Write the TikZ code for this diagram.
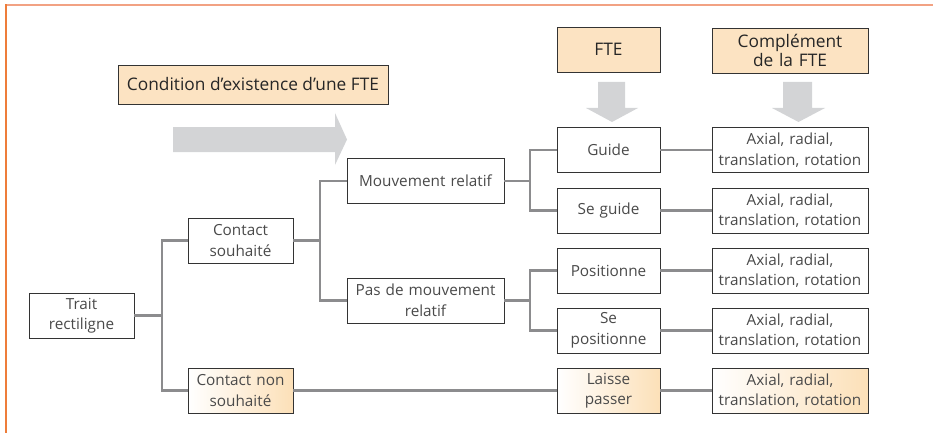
\documentclass[tikz,border=0pt]{standalone}
\usepackage{fontspec}
\setmainfont{Open Sans}
\definecolor{hdrfill}{HTML}{FCE3C2}
\definecolor{gradend}{HTML}{FCE0B8}
\definecolor{arrowgray}{HTML}{D3D4D6}
\definecolor{conngray}{HTML}{8C8C8E}
\definecolor{boxline}{HTML}{333333}
\definecolor{txtgray}{HTML}{4A4A4A}
\definecolor{topline}{HTML}{F2A283}
\definecolor{leftline}{HTML}{EE7D3A}
\begin{document}
\begin{tikzpicture}[x=1pt,y=-1pt,
  treebox/.style={draw=boxline,line width=0.9pt,fill=white,align=center,inner sep=1pt,
    text=txtgray,font=\fontsize{15.3}{20.5}\selectfont,minimum height=45pt},
  narrowbox/.style={treebox,minimum width=103pt,text width=101pt},
  midbox/.style={treebox,minimum width=105pt,text width=103pt},
  widebox/.style={treebox,minimum width=157pt,text width=155pt},
  axbox/.style={treebox,minimum width=156pt,text width=154pt},
  hdr/.style={draw=boxline,line width=0.9pt,fill=hdrfill,align=center,inner sep=1pt,
    text=black!85,font=\fontsize{17.3}{20}\selectfont},
  grad/.style={shading=axis,left color=white,right color=gradend,shading angle=90},
  conn/.style={draw=conngray,line width=2.7pt},
  bigarrow/.style={fill=arrowgray,draw=none}]
\useasboundingbox (0,0) rectangle (933,433);
% frame
\draw[topline,line width=1.5pt] (6,5) -- (933,5);
\draw[leftline,line width=1.5pt] (6,4.3) -- (6,433);
% big arrows
\fill[bigarrow] (173,127) -- (335,127) -- (335,113) -- (347,139.5) -- (335,165) -- (335,152) -- (173,152) -- cycle;
\fill[bigarrow] (598,82) -- (625,82) -- (625,108) -- (638,108) -- (612,122) -- (586,108) -- (598,108) -- cycle;
\fill[bigarrow] (783,82) -- (812,82) -- (812,108) -- (825,108) -- (798.5,122) -- (772,108) -- (783,108) -- cycle;
% headers
\node[hdr,minimum width=270pt,minimum height=39pt] (cond) at (253,84.5) {Condition d’existence d’une FTE};
\node[hdr,minimum width=103pt,minimum height=45pt] (fte) at (608.5,49.5) {FTE};
\node[hdr,minimum width=156pt,minimum height=45pt,text width=150pt] (compl) at (790,50.5) {Complément\\[-1pt]de la FTE};
% tree nodes
\node[midbox] (trait) at (81.5,315.5) {Trait\\rectiligne};
\node[midbox] (cs) at (240.5,240.5) {Contact\\souhaité};
\node[midbox,grad] (cns) at (240.5,390.5) {Contact non\\souhaité};
\node[widebox] (mr) at (425.5,181) {Mouvement relatif};
\node[widebox] (pmr) at (425.5,300.5) {Pas de mouvement\\relatif};
\node[narrowbox] (guide) at (608.5,150) {Guide};
\node[narrowbox] (seguide) at (608.5,210.5) {Se guide};
\node[narrowbox] (pos) at (608.5,270.5) {Positionne};
\node[narrowbox] (sepos) at (608.5,330.5) {Se\\positionne};
\node[narrowbox,grad] (laisse) at (608.5,390.5) {Laisse\\passer};
\node[axbox] (ax1) at (790,150) {Axial, radial,\\translation, rotation};
\node[axbox] (ax2) at (790,210.5) {Axial, radial,\\translation, rotation};
\node[axbox] (ax3) at (790,270.5) {Axial, radial,\\translation, rotation};
\node[axbox] (ax4) at (790,330.5) {Axial, radial,\\translation, rotation};
\node[axbox,grad] (ax5) at (790,390.5) {Axial, radial,\\translation, rotation};
% junctions
\coordinate (j1) at (162,315.5);
\coordinate (j2) at (320,240.5);
\coordinate (j3) at (530,181);
\coordinate (j4) at (530,300.5);
% connectors
\draw[conn] (trait.east) -- (j1);
\draw[conn] (cs.west) -| (j1) |- (cns.west);
\draw[conn] (cs.east) -- (j2);
\draw[conn] (mr.west) -| (j2) |- (pmr.west);
\draw[conn] (mr.east) -- (j3);
\draw[conn] (guide.west) -| (j3) |- (seguide.west);
\draw[conn] (pmr.east) -- (j4);
\draw[conn] (pos.west) -| (j4) |- (sepos.west);
\draw[conn] (cns.east) -- (laisse.west);
\draw[conn] (guide.east) -- (ax1.west);
\draw[conn] (seguide.east) -- (ax2.west);
\draw[conn] (pos.east) -- (ax3.west);
\draw[conn] (sepos.east) -- (ax4.west);
\draw[conn] (laisse.east) -- (ax5.west);
\end{tikzpicture}
\end{document}
